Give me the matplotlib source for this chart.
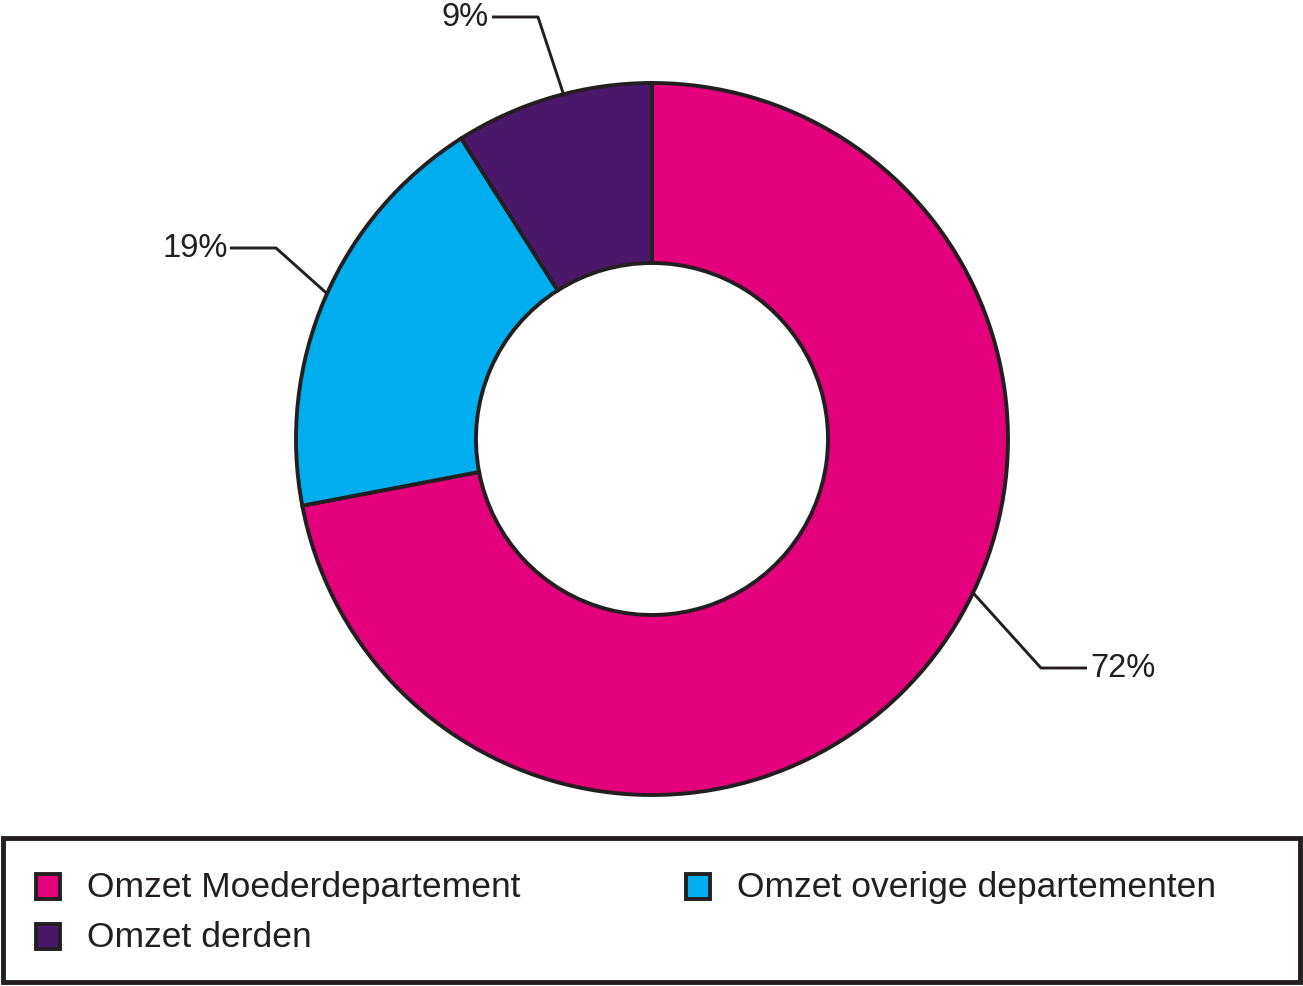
import numpy as np
import matplotlib.pyplot as plt
from matplotlib.patches import Rectangle

plt.rcParams['font.family'] = ['Liberation Sans', 'DejaVu Sans']

labels = ['Omzet Moederdepartement', 'Omzet overige departementen', 'Omzet derden']
shares = [72, 19, 9]
colors = ['#e4007c', '#00aeef', '#4a176b']
edge = '#231f20'

W, H = 1303, 987
fig = plt.figure(figsize=(W / 100, H / 100), dpi=100)
ax = fig.add_axes([0, 0, 1, 1])

cx, cy = 652, H - 440
R, r_in = 356, 176

wedges, _ = ax.pie(shares, colors=colors, startangle=90, counterclock=False,
                   center=(cx, cy), radius=R,
                   wedgeprops=dict(width=R - r_in, edgecolor=edge, linewidth=2.8))

# pie() resets the limits, so set pixel-like limits afterwards
ax.set_xlim(0, W)
ax.set_ylim(0, H)
ax.set_aspect('equal')
ax.axis('off')

# leader lines: (angle on the ring, elbow point, end of line, text pos, ha)
leaders = [
    (-25.6, (1041, 669), (1087, 669), (1090, 669), 'left'),
    (155.9, (276, 249), (230, 249), (228, 249), 'right'),
    (104.4, (538, 18), (492, 18), (489, 18), 'right'),
]
for (ang, elbow, end, tpos, ha), val in zip(leaders, shares):
    a = np.deg2rad(ang)
    x0, y0 = cx + R * np.cos(a), cy + R * np.sin(a)
    ax.plot([x0, elbow[0], end[0]], [y0, H - elbow[1], H - end[1]],
            color=edge, lw=2.1, solid_capstyle='butt')
    ax.text(tpos[0], H - tpos[1], f'{val}%', ha=ha, va='center',
            fontsize=23.5, color=edge)

# legend box
ax.add_patch(Rectangle((3, H - 983), 1297, 144, fill=False, edgecolor=edge, lw=3.5))
order = [0, 1, 2]
slots = [(36, 888), (686, 888), (36, 938)]
for i, (sx, sy) in zip(order, slots):
    ax.add_patch(Rectangle((sx, H - sy - 12), 24, 25, facecolor=colors[i],
                           edgecolor=edge, lw=2.8))
    ax.text(sx + 51, H - sy, labels[i], ha='left', va='center',
            fontsize=25.5, color=edge)

fig.savefig('out.png', dpi=100)
